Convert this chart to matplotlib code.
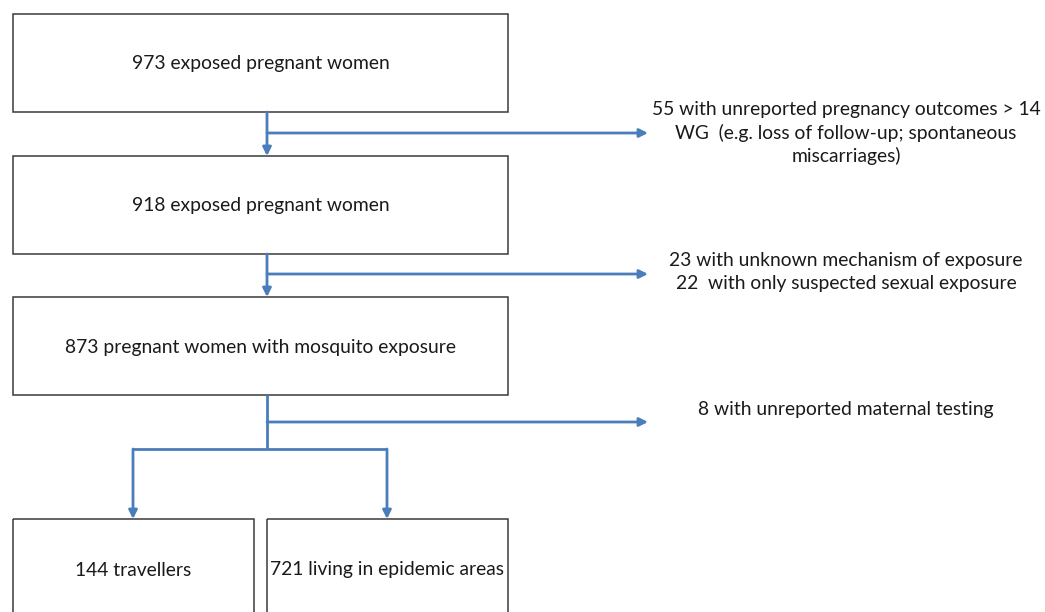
import matplotlib
matplotlib.use("Agg")
import matplotlib.pyplot as plt
from matplotlib.patches import Rectangle

plt.rcParams['font.family'] = ['Lato', 'DejaVu Sans']

# ---- content ----
main_boxes = ["973 exposed pregnant women",
              "918 exposed pregnant women",
              "873 pregnant women with mosquito exposure"]
exclusions = ["55 with unreported pregnancy outcomes > 14\nWG  (e.g. loss of follow-up; spontaneous\nmiscarriages)",
              "23 with unknown mechanism of exposure\n22  with only suspected sexual exposure",
              "8 with unreported maternal testing"]
split_boxes = ["144 travellers", "721 living in epidemic areas"]

W, H = 1045, 612
fig = plt.figure(figsize=(W / 100, H / 100), dpi=100)
ax = fig.add_axes([0, 0, 1, 1])
ax.set_xlim(0, W)
ax.set_ylim(H, 0)
ax.axis('off')

BLUE = '#4a7ebb'
EDGE = '#3a3a3a'
TXT = '#1a1a1a'
FS = 13.9

# main boxes
box_l, box_r = 13, 508
box_tops = [14, 156, 297]
box_h = 98
cx = 267
for t, label in zip(box_tops, main_boxes):
    ax.add_patch(Rectangle((box_l, t), box_r - box_l, box_h, fill=False,
                           edgecolor=EDGE, lw=1.1))
    ax.text((box_l + box_r) / 2, t + box_h / 2 + 1, label, ha='center', va='center',
            fontsize=FS, color=TXT)

arrow_kw = dict(arrowstyle='-|>,head_length=0.5,head_width=0.25', color=BLUE,
                lw=2, shrinkA=0, shrinkB=0)

# vertical arrows between main boxes + side branches
branch_y = [133, 274, 422]
excl_y = [133, 272, 409]
for i in range(3):
    bot = box_tops[i] + box_h
    if i < 2:
        ax.annotate('', xy=(cx, box_tops[i + 1]), xytext=(cx, bot), arrowprops=arrow_kw)
    else:
        ax.plot([cx, cx], [bot, 449], color=BLUE, lw=2, solid_capstyle='butt')
    ax.annotate('', xy=(648, branch_y[i]), xytext=(cx, branch_y[i]), arrowprops=arrow_kw)
    ax.text(846, excl_y[i], exclusions[i], ha='center', va='center',
            fontsize=FS, color=TXT, linespacing=1.38)

# split to two boxes
split_y = 449
lx, rx = 133, 387
ax.plot([lx, rx], [split_y, split_y], color=BLUE, lw=2, solid_capstyle='butt')
bot_top = 519
for x in (lx, rx):
    ax.annotate('', xy=(x, bot_top), xytext=(x, split_y), arrowprops=arrow_kw)

bottom_boxes = [(13, 254), (267, 508)]
for (l, r), label in zip(bottom_boxes, split_boxes):
    ax.add_patch(Rectangle((l, bot_top), r - l, 130, fill=False,
                           edgecolor=EDGE, lw=1.1))
    ax.text((l + r) / 2, 570, label, ha='center', va='center', fontsize=FS, color=TXT)

fig.savefig('out.png', dpi=100, facecolor='white')
